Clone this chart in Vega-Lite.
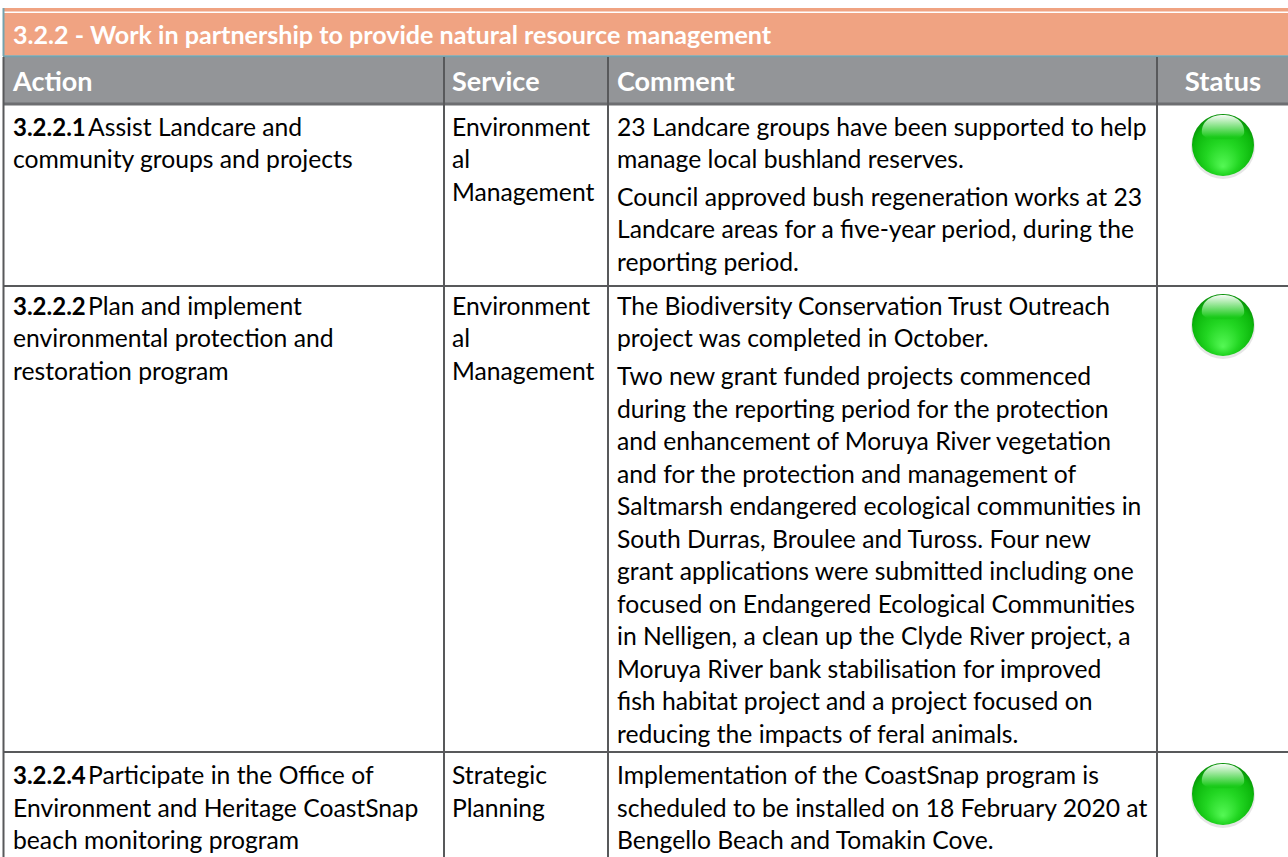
{
"$schema":"https://vega.github.io/schema/vega-lite/v6.json",
"width":1288,"height":857,"autosize":{"type":"fit","contains":"padding"},"padding":0,
"background":"white",
"config":{"view":{"stroke":null},"axis":{"domain":false,"ticks":false,"labels":false,"grid":false,"title":null}},
"datasets":{
"bands":[{"band":"title","top":-3.69,"bottom":-2.23},{"band":"header","top":-2.185,"bottom":-0.77}],
"hlines":[{"kind":"titleTop","line":-3.56},{"kind":"titleBottom","line":-2.21},{"kind":"head","line":-0.74},{"kind":"row","line":4.86},{"kind":"row","line":19.2}],
"status":[{"action":"3.2.2.1","status":"green","line":0.52},{"action":"3.2.2.2","status":"green","line":6.06},{"action":"3.2.2.4","status":"green","line":20.49}],
"text":[
{"column":"Title","line":-2.83,"text":"3.2.2 - Work in partnership to provide natural resource management"},
{"column":"HAction","line":-1.39,"text":"Action"},
{"column":"HService","line":-1.39,"text":"Service"},
{"column":"HComment","line":-1.39,"text":"Comment"},
{"column":"HStatus","line":-1.39,"text":"Status"},
{"column":"Ref","line":0,"text":"3.2.2.1"},
{"column":"Lead","line":0,"text":"Assist Landcare and"},
{"column":"Action","line":1,"text":"community groups and projects"},
{"column":"Service","line":0,"text":"Environment"},
{"column":"Service","line":1,"text":"al"},
{"column":"Service","line":2,"text":"Management"},
{"column":"Comment","line":0,"text":"23 Landcare groups have been supported to help"},
{"column":"Comment","line":1,"text":"manage local bushland reserves."},
{"column":"Comment","line":2.15,"text":"Council approved bush regeneration works at 23"},
{"column":"Comment","line":3.15,"text":"Landcare areas for a five-year period, during the"},
{"column":"Comment","line":4.15,"text":"reporting period."},
{"column":"Ref","line":5.5,"text":"3.2.2.2"},
{"column":"Lead","line":5.5,"text":"Plan and implement"},
{"column":"Action","line":6.5,"text":"environmental protection and"},
{"column":"Action","line":7.5,"text":"restoration program"},
{"column":"Service","line":5.5,"text":"Environment"},
{"column":"Service","line":6.5,"text":"al"},
{"column":"Service","line":7.5,"text":"Management"},
{"column":"Comment","line":5.5,"text":"The Biodiversity Conservation Trust Outreach"},
{"column":"Comment","line":6.5,"text":"project was completed in October."},
{"column":"Comment","line":7.67,"text":"Two new grant funded projects commenced"},
{"column":"Comment","line":8.67,"text":"during the reporting period for the protection"},
{"column":"Comment","line":9.67,"text":"and enhancement of Moruya River vegetation"},
{"column":"Comment","line":10.67,"text":"and for the protection and management of"},
{"column":"Comment","line":11.67,"text":"Saltmarsh endangered ecological communities in"},
{"column":"Comment","line":12.67,"text":"South Durras, Broulee and Tuross. Four new"},
{"column":"Comment","line":13.67,"text":"grant applications were submitted including one"},
{"column":"Comment","line":14.67,"text":"focused on Endangered Ecological Communities"},
{"column":"Comment","line":15.67,"text":"in Nelligen, a clean up the Clyde River project, a"},
{"column":"Comment","line":16.67,"text":"Moruya River bank stabilisation for improved"},
{"column":"Comment","line":17.67,"text":"fish habitat project and a project focused on"},
{"column":"Comment","line":18.67,"text":"reducing the impacts of feral animals."},
{"column":"Ref","line":19.95,"text":"3.2.2.4"},
{"column":"Lead","line":19.95,"text":"Participate in the Office of"},
{"column":"Action","line":20.95,"text":"Environment and Heritage CoastSnap"},
{"column":"Action","line":21.95,"text":"beach monitoring program"},
{"column":"Service","line":19.95,"text":"Strategic"},
{"column":"Service","line":20.95,"text":"Planning"},
{"column":"Comment","line":19.95,"text":"Implementation of the CoastSnap program is"},
{"column":"Comment","line":20.95,"text":"scheduled to be installed on 18 February 2020 at"},
{"column":"Comment","line":21.95,"text":"Bengello Beach and Tomakin Cove."}
]},
"layer":[
{"data":{"name":"bands"},"mark":{"type":"rect"},"encoding":{
 "x":{"datum":3,"type":"quantitative","scale":{"domain":[0,1288],"range":[0,1288],"nice":false,"zero":false},"axis":null},
 "x2":{"datum":1288},
 "y":{"field":"top","type":"quantitative","scale":{"domain":[-3.938,22.431],"range":[0,857],"nice":false,"zero":false},"axis":null},
 "y2":{"field":"bottom"},
 "color":{"field":"band","type":"nominal","scale":{"domain":["title","header"],"range":["#F0A382","#939598"]},"legend":null}}},
{"data":{"name":"hlines"},"transform":[{"filter":"datum.kind=='titleTop'"}],"mark":{"type":"rule","color":"#FFFFFF","strokeWidth":1.5},"encoding":{"y":{"field":"line","type":"quantitative"},"x":{"datum":3,"type":"quantitative"},"x2":{"datum":1288}}},
{"data":{"name":"hlines"},"transform":[{"filter":"datum.kind=='titleBottom'"}],"mark":{"type":"rule","color":"#74A2AE","strokeWidth":2},"encoding":{"y":{"field":"line","type":"quantitative"},"x":{"datum":3,"type":"quantitative"},"x2":{"datum":1288}}},
{"data":{"name":"hlines"},"transform":[{"filter":"datum.kind=='head'"}],"mark":{"type":"rule","color":"#6D6E71","strokeWidth":3},"encoding":{"y":{"field":"line","type":"quantitative"},"x":{"datum":3,"type":"quantitative"},"x2":{"datum":1288}}},
{"data":{"name":"hlines"},"transform":[{"filter":"datum.kind=='row'"}],"mark":{"type":"rule","color":"#58595B","strokeWidth":2},"encoding":{"y":{"field":"line","type":"quantitative"},"x":{"datum":3,"type":"quantitative"},"x2":{"datum":1288}}},
{"mark":{"type":"rule","color":"#74A2AE","strokeWidth":2},"data":{"values":[{"top":-3.69,"bottom":-2.21}]},"encoding":{"x":{"datum":3.5,"type":"quantitative"},"y":{"field":"top","type":"quantitative"},"y2":{"field":"bottom"}}},
{"mark":{"type":"rule","color":"#58595B","strokeWidth":2},"data":{"values":[{"top":-2.185,"bottom":22.431}]},"encoding":{"x":{"datum":3.5,"type":"quantitative"},"y":{"field":"top","type":"quantitative"},"y2":{"field":"bottom"}}},
{"mark":{"type":"rule","color":"#58595B","strokeWidth":2},"data":{"values":[{"top":-2.185,"bottom":22.431}]},"encoding":{"x":{"datum":444,"type":"quantitative"},"y":{"field":"top","type":"quantitative"},"y2":{"field":"bottom"}}},
{"mark":{"type":"rule","color":"#58595B","strokeWidth":2},"data":{"values":[{"top":-2.185,"bottom":22.431}]},"encoding":{"x":{"datum":608,"type":"quantitative"},"y":{"field":"top","type":"quantitative"},"y2":{"field":"bottom"}}},
{"mark":{"type":"rule","color":"#58595B","strokeWidth":2},"data":{"values":[{"top":-2.185,"bottom":22.431}]},"encoding":{"x":{"datum":1157,"type":"quantitative"},"y":{"field":"top","type":"quantitative"},"y2":{"field":"bottom"}}},
{"data":{"name":"status"},"mark":{"type":"point","shape":"circle","filled":true,"size":4100,"opacity":0.18,"fill":"#777777","yOffset":2},"encoding":{"x":{"datum":1223,"type":"quantitative"},"y":{"field":"line","type":"quantitative"}}},
{"data":{"name":"status"},"mark":{"type":"point","shape":"circle","filled":true,"size":3844,"opacity":1,"fill":{"gradient":"radial","x1":0.5,"y1":0.85,"r1":0,"x2":0.5,"y2":0.55,"r2":0.6,"stops":[{"offset":0,"color":"#55F855"},{"offset":0.45,"color":"#22D622"},{"offset":0.8,"color":"#0CB80C"},{"offset":1,"color":"#067F06"}]}},"encoding":{"x":{"datum":1223,"type":"quantitative"},"y":{"field":"line","type":"quantitative"}}},
{"data":{"name":"status"},"mark":{"type":"point","shape":"M-1,0C-1,-0.55 -0.5,-0.8 0,-0.8C0.5,-0.8 1,-0.55 1,0C1,0.3 0.5,0.35 0,0.35C-0.5,0.35 -1,0.3 -1,0Z","filled":true,"size":1800,"opacity":1,"yOffset":-13,"fill":{"gradient":"linear","x1":0,"y1":0,"x2":0,"y2":1,"stops":[{"offset":0,"color":"#F6FBF6"},{"offset":0.9,"color":"#1CCB1C"},{"offset":1,"color":"#16C816"}]}},"encoding":{"x":{"datum":1223,"type":"quantitative"},"y":{"field":"line","type":"quantitative"}}},
{"data":{"name":"text"},"transform":[{"filter":"datum.column=='Title'"}],"mark":{"type":"text","font":"Lato","fontWeight":"bold","fontSize":25.1,"color":"#FFFFFF","align":"left","baseline":"middle"},"encoding":{"x":{"datum":13,"type":"quantitative"},"y":{"field":"line","type":"quantitative"},"text":{"field":"text"}}},
{"data":{"name":"text"},"transform":[{"filter":"datum.column=='HAction'"}],"mark":{"type":"text","font":"Lato","fontWeight":"bold","fontSize":27,"color":"#FFFFFF","align":"left","baseline":"middle"},"encoding":{"x":{"datum":13,"type":"quantitative"},"y":{"field":"line","type":"quantitative"},"text":{"field":"text"}}},
{"data":{"name":"text"},"transform":[{"filter":"datum.column=='HService'"}],"mark":{"type":"text","font":"Lato","fontWeight":"bold","fontSize":27,"color":"#FFFFFF","align":"left","baseline":"middle"},"encoding":{"x":{"datum":452,"type":"quantitative"},"y":{"field":"line","type":"quantitative"},"text":{"field":"text"}}},
{"data":{"name":"text"},"transform":[{"filter":"datum.column=='HComment'"}],"mark":{"type":"text","font":"Lato","fontWeight":"bold","fontSize":27,"color":"#FFFFFF","align":"left","baseline":"middle"},"encoding":{"x":{"datum":617,"type":"quantitative"},"y":{"field":"line","type":"quantitative"},"text":{"field":"text"}}},
{"data":{"name":"text"},"transform":[{"filter":"datum.column=='HStatus'"}],"mark":{"type":"text","font":"Lato","fontWeight":"bold","fontSize":27.5,"color":"#FFFFFF","align":"center","baseline":"middle"},"encoding":{"x":{"datum":1223,"type":"quantitative"},"y":{"field":"line","type":"quantitative"},"text":{"field":"text"}}},
{"data":{"name":"text"},"transform":[{"filter":"datum.column=='Ref'"}],"mark":{"type":"text","font":"Lato","fontWeight":"bold","fontSize":24,"color":"#000000","align":"left","baseline":"middle","dy":1},"encoding":{"x":{"datum":13,"type":"quantitative"},"y":{"field":"line","type":"quantitative"},"text":{"field":"text"}}},
{"data":{"name":"text"},"transform":[{"filter":"datum.column=='Lead'"}],"mark":{"type":"text","font":"Lato","fontSize":24.7,"color":"#000000","align":"left","baseline":"middle","dy":1},"encoding":{"x":{"datum":88,"type":"quantitative"},"y":{"field":"line","type":"quantitative"},"text":{"field":"text"}}},
{"data":{"name":"text"},"transform":[{"filter":"datum.column=='Action'"}],"mark":{"type":"text","font":"Lato","fontSize":24.7,"color":"#000000","align":"left","baseline":"middle","dy":1},"encoding":{"x":{"datum":13,"type":"quantitative"},"y":{"field":"line","type":"quantitative"},"text":{"field":"text"}}},
{"data":{"name":"text"},"transform":[{"filter":"datum.column=='Service'"}],"mark":{"type":"text","font":"Lato","fontSize":24.7,"color":"#000000","align":"left","baseline":"middle","dy":1},"encoding":{"x":{"datum":452,"type":"quantitative"},"y":{"field":"line","type":"quantitative"},"text":{"field":"text"}}},
{"data":{"name":"text"},"transform":[{"filter":"datum.column=='Comment'"}],"mark":{"type":"text","font":"Lato","fontSize":24.7,"color":"#000000","align":"left","baseline":"middle","dy":1},"encoding":{"x":{"datum":617,"type":"quantitative"},"y":{"field":"line","type":"quantitative"},"text":{"field":"text"}}}
]
}
